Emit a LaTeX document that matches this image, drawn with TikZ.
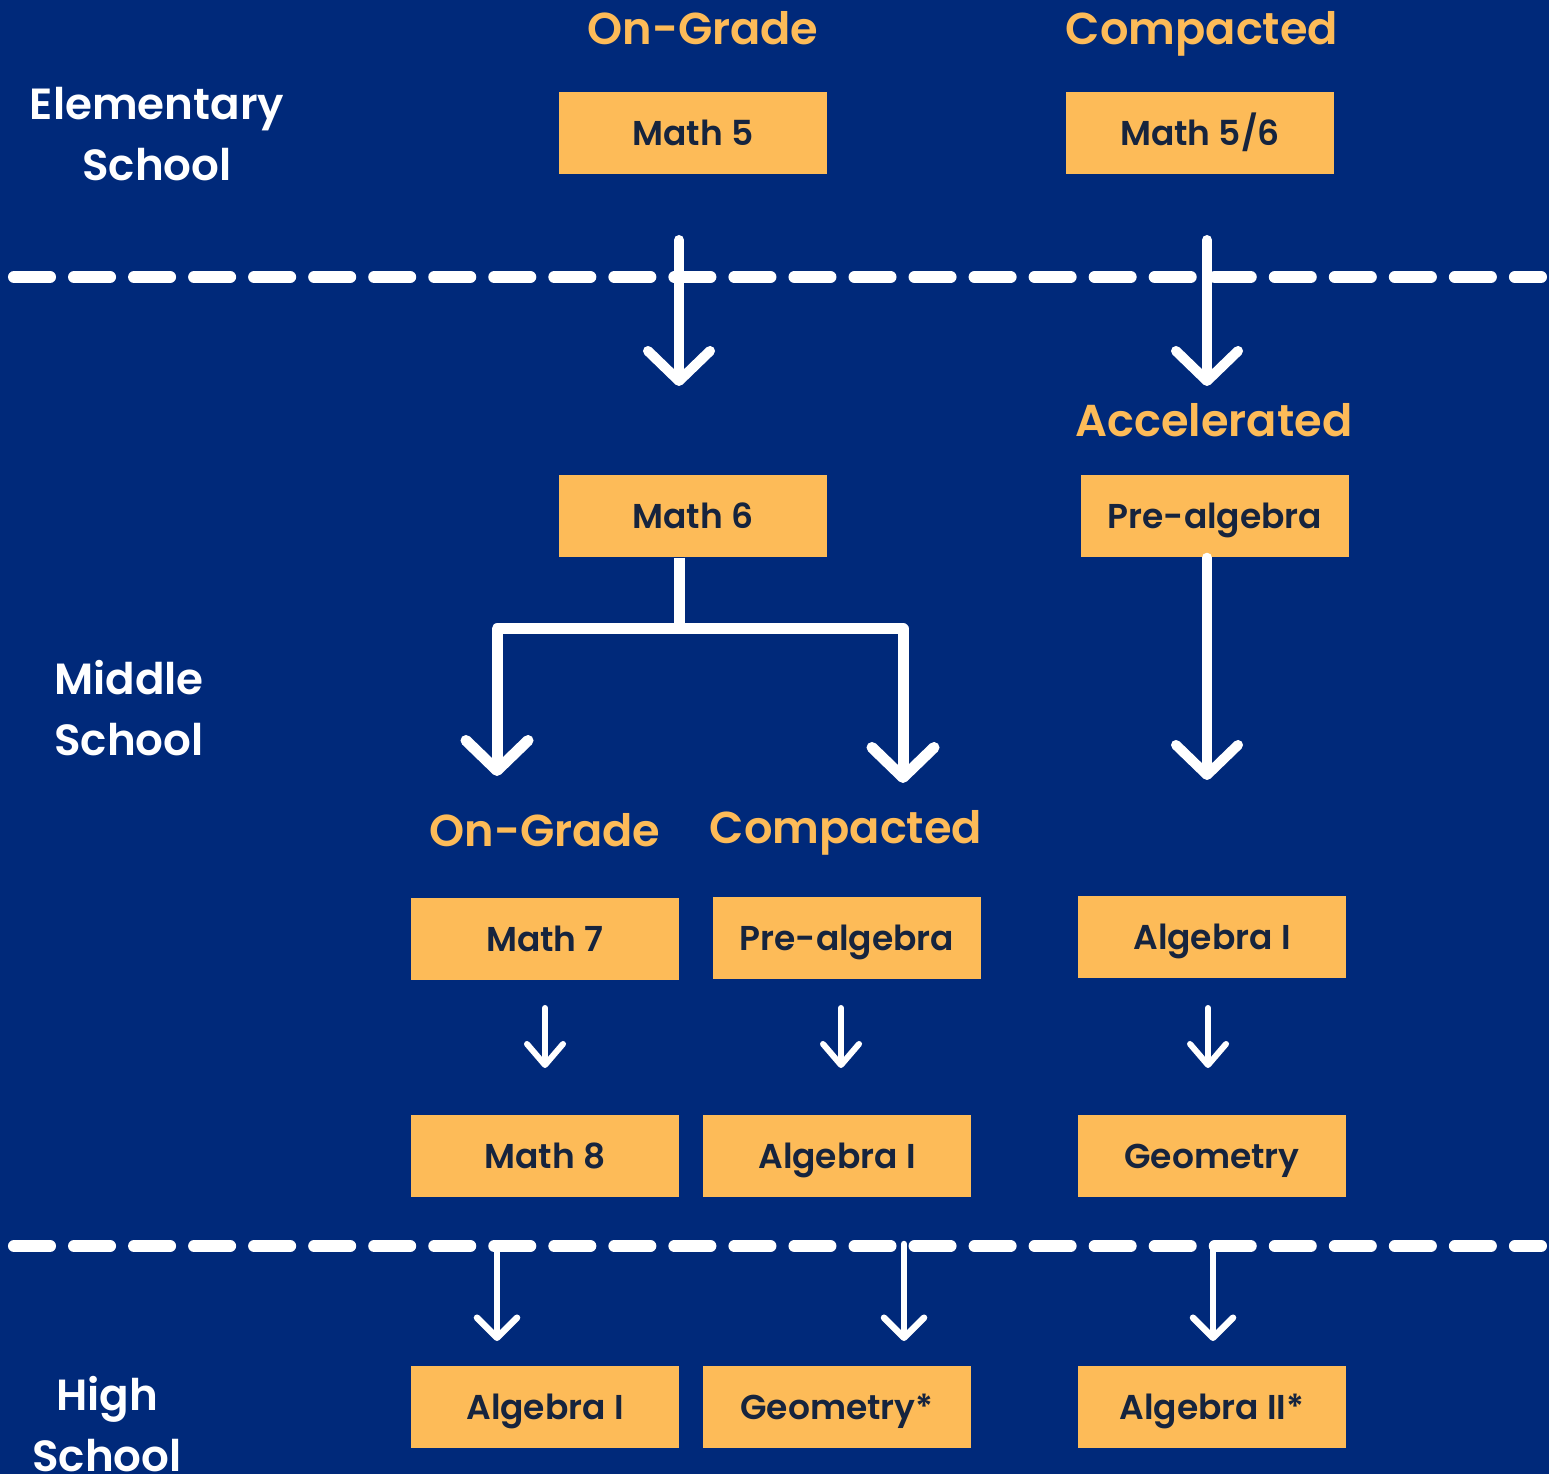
\documentclass[tikz,border=0pt]{standalone}
\usepackage{fontspec}
\setmainfont{Poppins}[BoldFont={Poppins SemiBold}]
\usetikzlibrary{arrows.meta}
\definecolor{bgblue}{RGB}{0,41,122}
\definecolor{boxor}{RGB}{253,187,88}
\definecolor{boxtxt}{RGB}{22,36,62}
\tikzset{
  px/.style={x=0.01cm,y=-0.01cm},
  course/.style={fill=boxor, draw=none, minimum width=2.68cm, minimum height=0.82cm, inner sep=0pt,
    text=boxtxt, font=\fontsize{9.8}{12}\selectfont\bfseries, text height=0.7em, text depth=0pt},
  track/.style={text=boxor, font=\fontsize{12.7}{15}\selectfont\bfseries, inner sep=0pt,
    text height=0.7em, text depth=0pt},
  level/.style={text=white, font=\fontsize{12.4}{17.3}\selectfont\bfseries, align=center, inner sep=0pt},
  sep/.style={white, line width=0.12cm, line cap=round, dash pattern=on 0.36cm off 0.24cm},
  bigarr/.style={white, line width=0.1cm, line cap=round, -{Straight Barb[length=0.3cm, width=0.62cm, round]}},
  midarr/.style={white, line width=0.065cm, line cap=round, -{Straight Barb[length=0.2cm, width=0.4cm, round]}},
  smallarr/.style={white, line width=0.06cm, line cap=round, -{Straight Barb[length=0.21cm, width=0.36cm, round]}},
}
\begin{document}
\begin{tikzpicture}[px]
\useasboundingbox (0,0) rectangle (1549,1474);
\clip (0,0) rectangle (1549,1474);
\fill[bgblue] (0,0) rectangle (1549,1474);

% level labels
\node[level] (es) at (157,134) {Elementary\\School};
\node[level] (ms) at (129,708) {Middle\\School};
\node[level] (hs) at (107,1424) {High\\School};

% track headings
\node[track] (hog1) at (703,32) {On-Grade};
\node[track] (hcp1) at (1202,32) {Compacted};
\node[track] (hacc) at (1214,424) {Accelerated};
\node[track] (hog2) at (545,834) {On-Grade};
\node[track] (hcp2) at (846,831) {Compacted};

% separators
\draw[sep] (14,277) -- (1541,277);
\draw[sep] (14,1246) -- (1541,1246);

% courses
\node[course] (m5) at (693,133) {Math 5};
\node[course] (m56) at (1200,133) {Math 5/6};
\node[course] (m6) at (693,516) {Math 6};
\node[course] (pa1) at (1215,516) {Pre-algebra};
\node[course] (m7) at (545,939) {Math 7};
\node[course] (pa2) at (847,938) {Pre-algebra};
\node[course] (a1m) at (1212,937) {Algebra I};
\node[course] (m8) at (545,1156) {Math 8};
\node[course] (a1c) at (837,1156) {Algebra I};
\node[course] (geo) at (1212,1156) {Geometry};
\node[course] (a1h) at (545,1407) {Algebra I};
\node[course] (geoh) at (837,1407) {Geometry*};
\node[course] (a2h) at (1212,1407) {Algebra II*};

% connector coordinates
\coordinate (s1) at (679,240);
\coordinate (e1) at (679,386);
\coordinate (s2) at (1207,240);
\coordinate (e2) at (1207,386);
\coordinate (br) at (679,629);
\coordinate (eL) at (497,776);
\coordinate (eR) at (903,783);
\coordinate (e3) at (1207,780);
\coordinate (s4) at (545,1008);
\coordinate (e4) at (545,1068);
\coordinate (s5) at (841,1008);
\coordinate (e5) at (841,1068);
\coordinate (s6) at (1208,1008);
\coordinate (e6) at (1208,1068);
\coordinate (s7) at (497,1249);
\coordinate (e7) at (497,1341);
\coordinate (s8) at (904,1244);
\coordinate (e8) at (904,1341);
\coordinate (s9) at (1213,1249);
\coordinate (e9) at (1213,1341);

% arrows
\draw[bigarr] (s1) -- (e1);
\draw[bigarr] (s2) -- (e2);
\draw[white, line width=0.11cm] (m6.south -| br) -- (br);
\draw[bigarr, line width=0.11cm, line join=round] (br) -| (eL);
\draw[bigarr, line width=0.11cm, line join=round] (br) -| (eR);
\draw[bigarr] (pa1.south -| e3) -- (e3);
\draw[smallarr] (s4) -- (e4);
\draw[smallarr] (s5) -- (e5);
\draw[smallarr] (s6) -- (e6);
\draw[midarr] (s7) -- (e7);
\draw[midarr] (s8) -- (e8);
\draw[midarr] (s9) -- (e9);
\end{tikzpicture}
\end{document}
